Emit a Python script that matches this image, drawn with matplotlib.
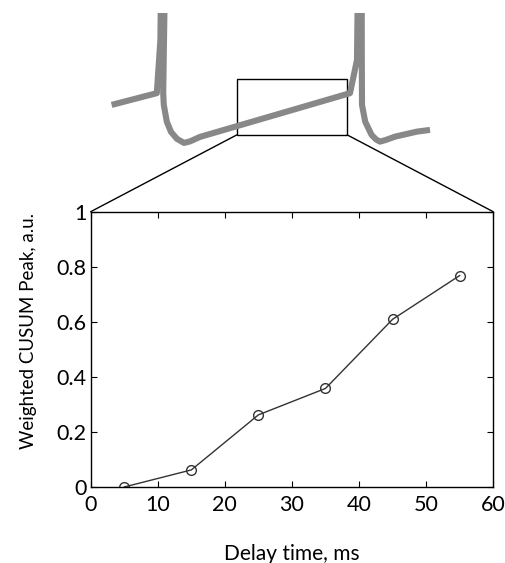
import numpy as np
import matplotlib
matplotlib.use('Agg')
import matplotlib.pyplot as plt
from matplotlib.patches import Rectangle, ConnectionPatch

plt.rcParams['font.family'] = ['Lato', 'DejaVu Sans']

# main data
delay_ms = [5, 15, 25, 35, 45, 55]
cusum_peak = [0.0, 0.062, 0.262, 0.358, 0.609, 0.768]
x_ticks = [0, 10, 20, 30, 40, 50, 60]
y_ticks = [0, 0.2, 0.4, 0.6, 0.8, 1]
y_tick_labels = ['0', '0.2', '0.4', '0.6', '0.8', '1']

# schematic membrane trace shown above the plot (time ms, voltage mV)
trace_t = [5.4, 16.7, 17.6, 17.9, 18.6, 18.6, 18.3, 18.45, 19.2, 20.25,
           21.75, 23.5, 25.0, 27.5, 65.0, 66.75, 67.1, 67.9, 67.95, 68.0,
           68.8, 70.4, 71.5, 72.5, 74.0, 76.25, 81.7, 85.0]
trace_v = [-59.0, -54.3, -33, 10, 10, -22.2, -54.2, -59, -65.7, -69.8,
           -72.6, -74.2, -73.6, -71.8, -54.3, -41, 10, 10, -41, -59,
           -65.7, -71, -72.8, -73.7, -73, -71.7, -69.7, -69]
zoom_t = [36.7, 64.3]
zoom_v = [-71.0, -48.6]

fig = plt.figure(figsize=(5.05, 5.63), dpi=100)

ax = fig.add_axes([0.1796, 0.135, 0.797, 0.489])
ax.plot(delay_ms, cusum_peak, color='#333333', lw=1.0, marker='o',
        markersize=7, markerfacecolor='none', markeredgecolor='#333333',
        markeredgewidth=1.0)
ax.set_xlim(0, 60)
ax.set_ylim(0, 1)
ax.set_xticks(x_ticks)
ax.set_yticks(y_ticks)
ax.set_yticklabels(y_tick_labels)
ax.tick_params(direction='in', length=4, width=0.8, labelsize=15.5,
               top=True, right=True)
ax.tick_params(axis='x', pad=6)
ax.tick_params(axis='y', pad=3)
for s in ax.spines.values():
    s.set_linewidth(1.0)
ax.set_xlabel('Delay time, ms', fontsize=15)
ax.set_ylabel('Weighted CUSUM Peak, a.u.', fontsize=13.5)
ax.xaxis.set_label_coords(0.5, -0.207)
ax.yaxis.set_label_coords(-0.134, 0.567)

# trace panel
tax = fig.add_axes([0, 0.716, 1, 0.261])
tax.plot(trace_t, trace_v, color='#888888', lw=4.4, solid_joinstyle='round',
         solid_capstyle='butt')
tax.set_xlim(-22.5, 103.75)
tax.set_ylim(-81, -22.2)
tax.axis('off')
tax.add_patch(Rectangle((zoom_t[0], zoom_v[0]), zoom_t[1] - zoom_t[0],
                        zoom_v[1] - zoom_v[0], fill=False, ec='black', lw=1.0))

for xa, xb in [(zoom_t[0], 0), (zoom_t[1], 1)]:
    con = ConnectionPatch(xyA=(xa, zoom_v[0]), coordsA=tax.transData,
                          xyB=(xb, 1), coordsB=ax.transAxes,
                          color='black', lw=1.0)
    fig.add_artist(con)

fig.savefig('out.png', dpi=100)
